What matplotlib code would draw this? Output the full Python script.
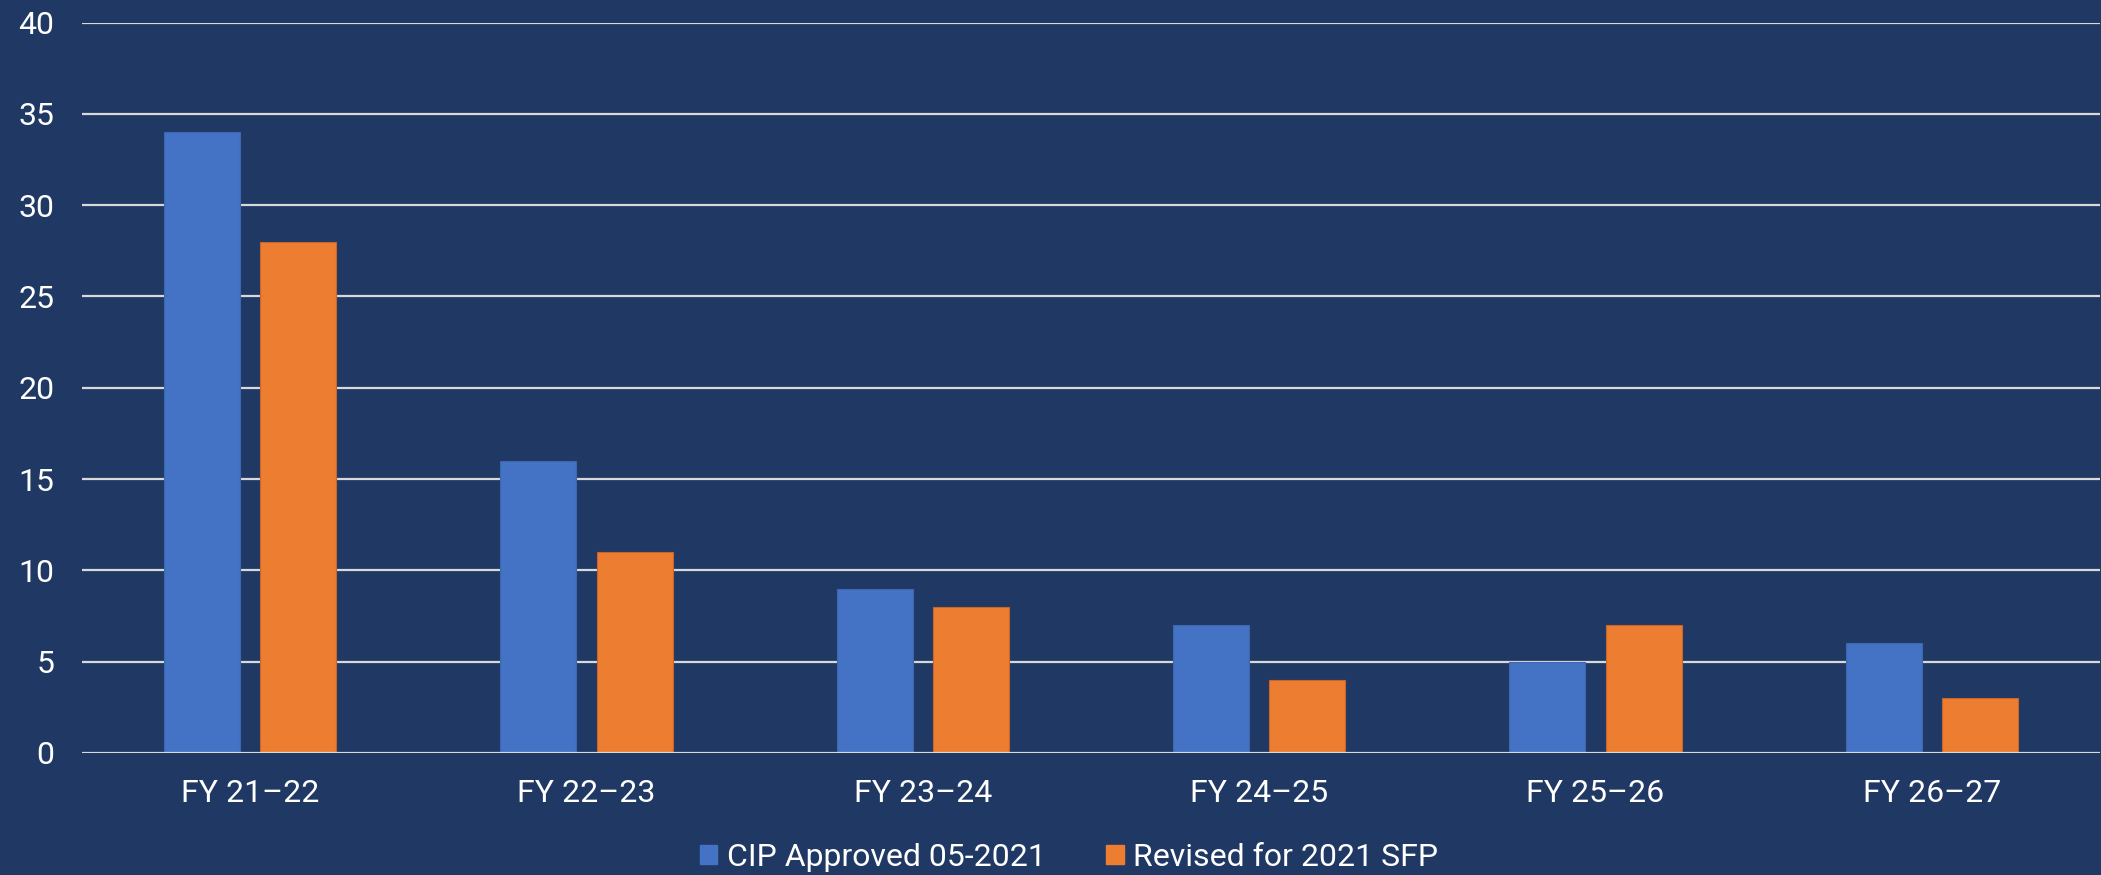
import matplotlib
matplotlib.use("Agg")
import matplotlib.pyplot as plt
import numpy as np
from matplotlib.patches import Patch

categories = ["FY 21–22", "FY 22–23", "FY 23–24", "FY 24–25", "FY 25–26", "FY 26–27"]
cip_approved = [34, 16, 9, 7, 5, 6]
revised_sfp = [28, 11, 8, 4, 7, 3]
series_names = ["CIP Approved 05-2021", "Revised for 2021 SFP"]
yticks = [0, 5, 10, 15, 20, 25, 30, 35, 40]

BG = "#203864"
BLUE = "#4472C4"
ORANGE = "#ED7D31"
GRID = "#D9D9D9"
TXT = "#FFFFFF"

plt.rcParams['font.family'] = ['Roboto', 'Liberation Sans', 'DejaVu Sans']
FS = 23
FW = 'normal'

fig = plt.figure(figsize=(21.01, 8.75), dpi=100, facecolor=BG)
ax = fig.add_axes([82/2101, 122/875, (2100-82)/2101, (753-22.5)/875])
ax.set_facecolor(BG)

x = np.arange(len(categories))
w = 0.226
off = 0.143
ax.bar(x - off, cip_approved, width=w, color=BLUE, edgecolor="#3F66B0", linewidth=0.8, zorder=3)
ax.bar(x + off, revised_sfp, width=w, color=ORANGE, edgecolor="#C8652A", linewidth=0.8, zorder=3)

ax.set_xlim(-0.5, len(categories) - 0.5)
ax.set_ylim(0, 40)
ax.set_yticks(yticks)
ax.set_yticklabels([str(t) for t in yticks], fontsize=FS, color=TXT, fontweight=FW)
ax.set_xticks(x)
ax.set_xticklabels(categories, fontsize=FS, color=TXT, fontweight=FW)
ax.tick_params(axis='y', length=0, pad=20)
ax.tick_params(axis='x', length=0, pad=19)
for t in yticks:
    ax.axhline(t, color=GRID, linewidth=1.6, zorder=1 if t > 0 else 4)
for s in ax.spines.values():
    s.set_visible(False)

handles = [Patch(facecolor=BLUE, edgecolor=BLUE), Patch(facecolor=ORANGE, edgecolor=ORANGE)]
leg = fig.legend(handles, series_names, loc='center', bbox_to_anchor=(1069/2101, 1 - 857/875),
                 ncol=2, frameon=False, fontsize=FS, handlelength=0.55, handleheight=0.55,
                 handletextpad=0.3, columnspacing=1.9, labelcolor=TXT,
                 prop={'size': FS, 'weight': FW})

fig.savefig("out.png", dpi=100, facecolor=BG)
